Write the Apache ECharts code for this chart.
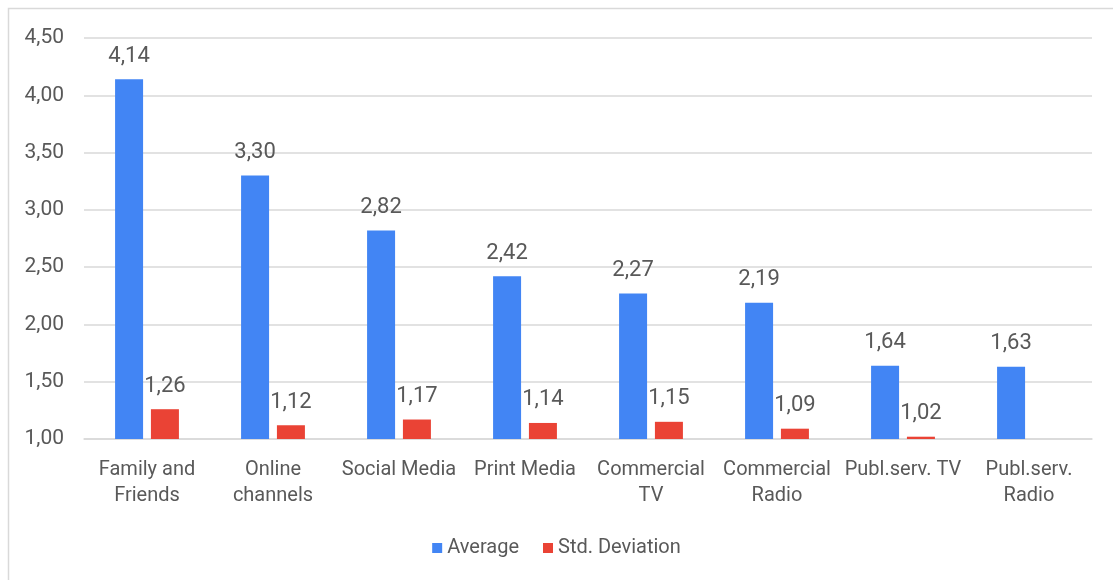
<!DOCTYPE html>
<html><head><meta charset="utf-8">
<script src="https://cdn.jsdelivr.net/npm/echarts@6/dist/echarts.min.js"></script>
<style>html,body{margin:0;padding:0;background:#fff}#c{width:1113px;height:580px}</style>
</head><body><div id="c"></div>
<script>
const categories = ['Family and\nFriends','Online\nchannels','Social Media','Print Media','Commercial\nTV','Commercial\nRadio','Publ.serv. TV','Publ.serv.\nRadio'];
const averageValues = [4.14, 3.30, 2.82, 2.42, 2.27, 2.19, 1.64, 1.63];
const stdDevValues = [1.26, 1.12, 1.17, 1.14, 1.15, 1.09, 1.02, null];
const seriesNames = ['Average', 'Std. Deviation'];

const FONT = "'Liberation Sans Narrow', 'Arial Narrow', Roboto, sans-serif";
const fmt = v => v.toFixed(2).replace('.', ',');
const chart = echarts.init(document.getElementById('c'));
chart.setOption({
  animation: false,
  textStyle: {fontFamily: FONT},
  graphic: [{type:'rect', shape:{x:8.5,y:8.5,width:1200,height:700}, style:{fill:'none', stroke:'#d9d9d9', lineWidth:1.5}}],
  grid: {left: 84, right: 21, top: 38, bottom: 141},
  legend: {
    bottom: 17, left: 'center', itemWidth: 10, itemHeight: 10, itemGap: 24,
    icon: 'rect',
    textStyle: {fontFamily: FONT, fontSize: 20, color: '#595959'},
    data: seriesNames
  },
  xAxis: {
    type: 'category', data: categories,
    axisLine: {lineStyle: {color: '#d9d9d9', width: 1.5}},
    axisTick: {show: false},
    axisLabel: {fontFamily: FONT, fontSize: 20, color: '#595959', margin: 18, lineHeight: 26, interval: 0}
  },
  yAxis: {
    type: 'value', min: 1, max: 4.5, interval: 0.5,
    axisLine: {show: false}, axisTick: {show: false},
    splitLine: {lineStyle: {color: '#d9d9d9', width: 1.5}},
    axisLabel: {fontFamily: FONT, fontSize: 21, color: '#595959', margin: 20, formatter: v => fmt(v)}
  },
  series: [
    {name: seriesNames[0], type: 'bar', data: averageValues, barWidth: 28, barGap: '28%',
     itemStyle: {color: '#4285F4'},
     label: {show: true, position: 'top', distance: 12, fontFamily: FONT, fontSize: 22, color: '#595959', formatter: p => fmt(p.value)}},
    {name: seriesNames[1], type: 'bar', data: stdDevValues, barWidth: 28,
     itemStyle: {color: '#EA4335'},
     label: {show: true, position: 'top', distance: 12, fontFamily: FONT, fontSize: 22, color: '#595959', formatter: p => fmt(p.value)}}
  ]
});
</script></body></html>
